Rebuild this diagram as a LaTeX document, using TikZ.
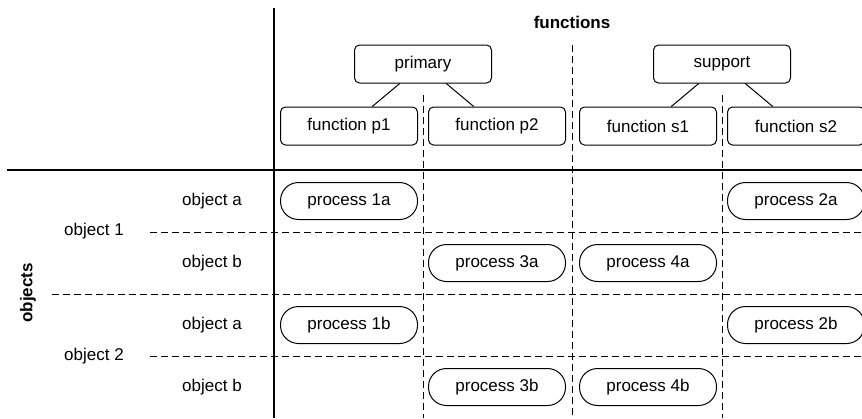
\documentclass[tikz,border=0pt]{standalone}
\usepackage{fontspec}
\setmainfont{Liberation Sans}
\usetikzlibrary{shapes,arrows,positioning}

\begin{document}
\begin{tikzpicture}[x=1pt,y=-1pt,font=\fontsize{17}{20}\selectfont,
        level/.style={sibling distance = 148pt, level distance = 62pt},
        func/.style = {shape=rectangle, draw, rounded corners=5pt,
        minimum width=137pt, minimum height=38pt, line width=1pt},
        proc/.style = {shape=rectangle, draw, rounded corners=18pt,
        minimum width=137pt, minimum height=37pt, line width=1pt},
        edge from parent/.style = {draw, line width=1pt},
        grid/.style = {dash pattern=on 7pt off 4pt, line width=1pt},
        axis/.style = {line width=1.3pt}]
      \useasboundingbox (0,0) rectangle (862,418);
      % functions
      \node [font=\fontsize{17}{20}\selectfont\bfseries] (fns) at (572,22) {functions};
      \node [func] (prim) at (423,64) {primary}
        child { node [func] (fp1) {function p1} }
        child { node [func] (fp2) {function p2} };
      \node [func] (supp) at (722,64) {support}
        child { node [func] (fs1) {function s1} }
        child { node [func] (fs2) {function s2} };
      % objects
      \node [rotate=90, font=\fontsize{17}{20}\selectfont\bfseries] (objs) at (28,293) {objects};
      \node (ob1) at (94,231) {object 1};
      \node (ob2) at (94,356) {object 2};
      \node (oa1) at (212,201) {object a};
      \node (ob1b) at (212,263) {object b};
      \node (oa2) at (212,325) {object a};
      \node (ob2b) at (212,387) {object b};
      % grid
      \draw [axis] (274,8) -- (274,418);
      \draw [axis] (7,170) -- (862,170);
      \draw [grid] (423,95) -- (423,418);
      \draw [grid] (572,45) -- (572,418);
      \draw [grid] (722,95) -- (722,418);
      \draw [grid] (150,232) -- (862,232);
      \draw [grid] (52,294) -- (862,294);
      \draw [grid] (150,356) -- (862,356);
      % processes
      \node [proc] (p1a) at (fp1 |- oa1) {process 1a};
      \node [proc] (p2a) at (fs2 |- oa1) {process 2a};
      \node [proc] (p3a) at (fp2 |- ob1b) {process 3a};
      \node [proc] (p4a) at (fs1 |- ob1b) {process 4a};
      \node [proc] (p1b) at (fp1 |- oa2) {process 1b};
      \node [proc] (p2b) at (fs2 |- oa2) {process 2b};
      \node [proc] (p3b) at (fp2 |- ob2b) {process 3b};
      \node [proc] (p4b) at (fs1 |- ob2b) {process 4b};
    \end{tikzpicture}
\end{document}
